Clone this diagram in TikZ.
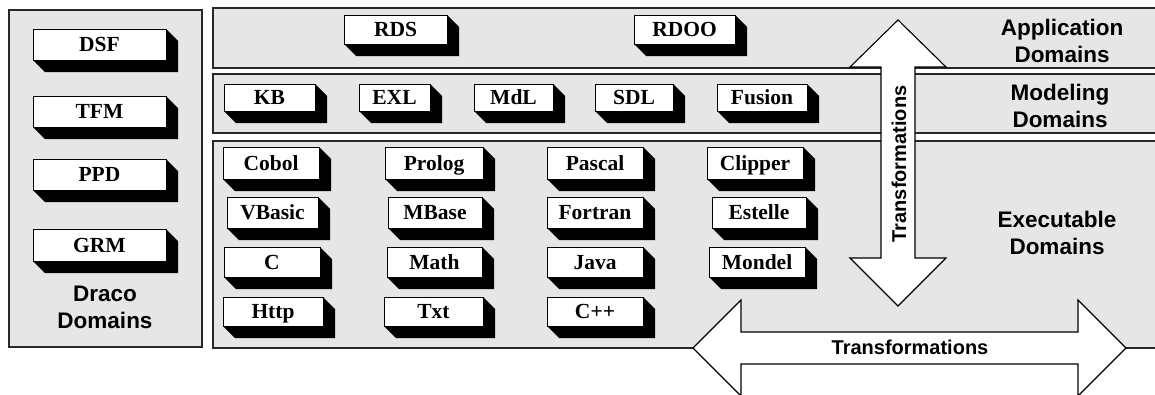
\documentclass[tikz,border=0pt]{standalone}
\usepackage{fontspec}
\setmainfont{Liberation Serif}
\newfontfamily\labelsans{Liberation Sans}
\definecolor{panelgray}{RGB}{230,230,230}
\definecolor{panelline}{RGB}{40,40,40}

% extruded block: name, x1, y1, x2, y2, text (coordinates in px of the face)
\newcommand\extrudedbox[6]{%
  \fill[black] (#4,#3) -- (#4+12,#3+12) -- (#4+12,#5+12) -- (#2+12,#5+12) -- (#2,#5) -- cycle;
  \node[blockbox, minimum width={(#4-#2)*1pt}, minimum height={(#5-#3)*1pt}]
    (#1) at ({(#2+#4)/2},{(#3+#5)/2}) {#6};
}

\begin{document}
\begin{tikzpicture}[x=1pt,y=-1pt,
  panel/.style={fill=panelgray, draw=panelline, line width=1.1pt},
  blockbox/.style={draw=black, fill=white, line width=0.9pt, inner sep=0pt,
    text height=14.2pt, text depth=0pt,
    font=\bfseries\fontsize{21.5}{23}\selectfont},
  domainlabel/.style={font=\labelsans\bfseries\fontsize{22.5}{27}\selectfont,
    align=center, inner sep=0pt},
  arrowlabel/.style={font=\labelsans\bfseries\fontsize{20}{22}\selectfont, inner sep=0pt},
  bigarrow/.style={fill=white, draw=black, line width=1.1pt, line join=miter}
]
\useasboundingbox (0,0) rectangle (1155,394);
\clip (0,0) rectangle (1155,394);

% domain panels
\draw[panel] (9,10) rectangle (202,347);
\draw[panel] (213,8) rectangle (1170,68);
\draw[panel] (213,74) rectangle (1170,133);
\draw[panel] (213,141) rectangle (1170,348);

% block arrows
\draw[bigarrow] (898,20) -- (946,67) -- (915,67) -- (915,258) -- (946,258) -- (898,306)
  -- (850,258) -- (881,258) -- (881,67) -- (850,67) -- cycle;
\draw[bigarrow] (693,348) -- (741,300) -- (741,332) -- (1078,332) -- (1078,300) -- (1126,348)
  -- (1078,396) -- (1078,364) -- (741,364) -- (741,396) -- cycle;
\node[arrowlabel, rotate=90] (vtrans) at (899,164) {Transformations};
\node[arrowlabel] (htrans) at (910,347) {Transformations};

% panel titles
\node[domainlabel] (draco) at (105,307) {Draco\\Domains};
\node[domainlabel] (appl) at (1062,41) {Application\\Domains};
\node[domainlabel] (model) at (1060,106) {Modeling\\Domains};
\node[domainlabel] (exec) at (1057,233) {Executable\\Domains};

% Draco domains
\extrudedbox{DSF}{33}{29}{166}{60}{DSF}
\extrudedbox{TFM}{33}{96}{166}{127}{TFM}
\extrudedbox{PPD}{33}{159}{166}{190}{PPD}
\extrudedbox{GRM}{33}{229}{166}{261}{GRM}

% application domains
\extrudedbox{RDS}{344}{15}{447}{44}{RDS}
\extrudedbox{RDOO}{634}{15}{735}{44}{RDOO}

% modeling domains
\extrudedbox{KB}{224}{84}{315}{111}{KB}
\extrudedbox{EXL}{359}{84}{430}{111}{EXL}
\extrudedbox{MdL}{474}{84}{553}{111}{MdL}
\extrudedbox{SDL}{595}{84}{673}{111}{SDL}
\extrudedbox{Fusion}{717}{84}{807}{111}{Fusion}

% executable domains
\extrudedbox{Cobol}{223}{147}{319}{179}{Cobol}
\extrudedbox{Prolog}{385}{147}{483}{179}{Prolog}
\extrudedbox{Pascal}{547}{147}{643}{179}{Pascal}
\extrudedbox{Clipper}{707}{147}{803}{179}{Clipper}
\extrudedbox{VBasic}{227}{197}{318}{228}{VBasic}
\extrudedbox{MBase}{388}{197}{482}{228}{MBase}
\extrudedbox{Fortran}{547}{197}{643}{228}{Fortran}
\extrudedbox{Estelle}{712}{197}{806}{228}{Estelle}
\extrudedbox{C}{224}{247}{320}{277}{C}
\extrudedbox{Math}{387}{247}{482}{277}{Math}
\extrudedbox{Java}{547}{247}{643}{277}{Java}
\extrudedbox{Mondel}{709}{247}{805}{277}{Mondel}
\extrudedbox{Http}{223}{297}{323}{326}{Http}
\extrudedbox{Txt}{384}{297}{483}{326}{Txt}
\extrudedbox{Cpp}{547}{297}{643}{326}{C++}
\end{tikzpicture}
\end{document}
